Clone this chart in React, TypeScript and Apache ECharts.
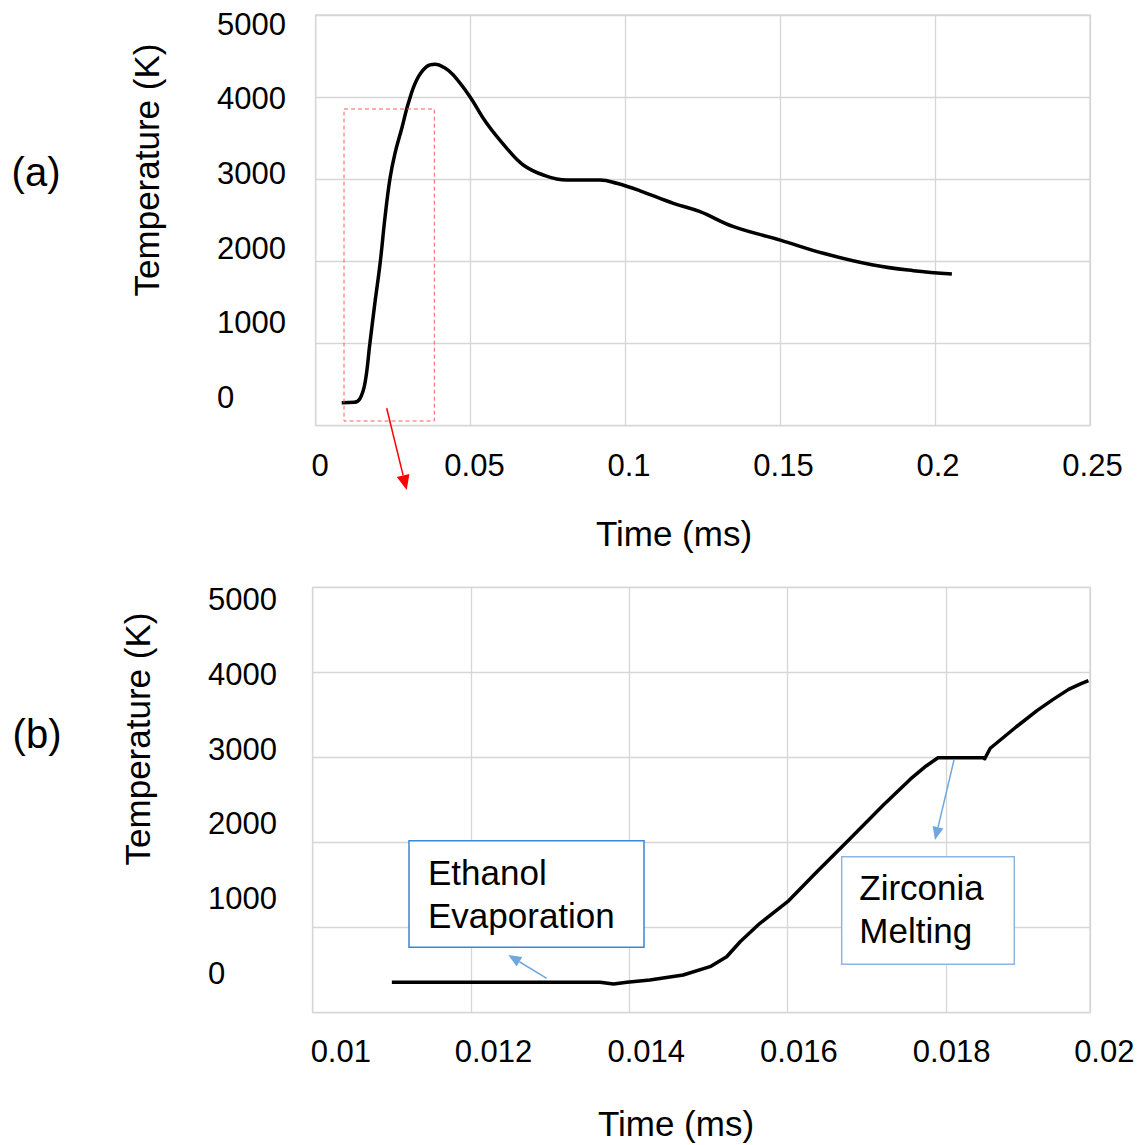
import React, { useEffect, useRef } from "react";
import * as echarts from "echarts";

// ---------- data ----------
// (a) full time history
const timeA = [0.0084, 0.0125, 0.0143, 0.0159, 0.0175, 0.0191, 0.0208, 0.0224, 0.024, 0.0256, 0.0278, 0.0299, 0.0326, 0.0358, 0.0385, 0.0415, 0.0444, 0.0498, 0.0552, 0.0617, 0.067, 0.0735, 0.081, 0.0918, 0.0972, 0.1047, 0.1155, 0.1241, 0.1349, 0.15, 0.1639, 0.18, 0.193, 0.2054];
const tempA = [280, 285, 330, 516, 1003, 1490, 1977, 2545, 3012, 3316, 3621, 3925, 4209, 4371, 4400, 4360, 4270, 4005, 3681, 3377, 3174, 3052, 2991, 2991, 2951, 2860, 2707, 2605, 2423, 2260, 2099, 1956, 1887, 1847];

// (b) zoomed early heating
const timeB = [0.011, 0.01363, 0.0138, 0.01397, 0.01426, 0.01468, 0.01502, 0.01523, 0.0154, 0.01565, 0.016, 0.01637, 0.01675, 0.01721, 0.01755, 0.01775, 0.0179, 0.01847, 0.01849, 0.01856, 0.01889, 0.01915, 0.01935, 0.01955, 0.0197, 0.0198];
const tempB = [357, 357, 337, 357, 384, 443, 541, 658, 834, 1051, 1305, 1657, 2010, 2441, 2745, 2900, 2997, 2997, 2985, 3108, 3361, 3550, 3680, 3800, 3865, 3902];

// tick labels
const yTicks = [0, 1000, 2000, 3000, 4000, 5000];
const xTicksA = [0, 0.05, 0.1, 0.15, 0.2, 0.25];
const xTicksB = [0.01, 0.012, 0.014, 0.016, 0.018, 0.02];

const FONT = '"Liberation Sans", Arial, Helvetica, sans-serif';
const GRID_COLOR = "#d6d6d6";

const fmt = (v: number) => String(parseFloat(Number(v).toFixed(6)));

const hiddenAxis = (gridIndex: number) => ({ gridIndex, type: "value", show: false });

const mainX = (gridIndex: number, min: number, max: number, interval: number) => ({
  gridIndex,
  type: "value",
  min,
  max,
  interval,
  axisLine: { show: false },
  axisTick: { show: false },
  axisLabel: { show: false },
  splitLine: { show: true, lineStyle: { color: GRID_COLOR, width: 1.3 } },
});

const mainY = (gridIndex: number) => ({
  gridIndex,
  type: "value",
  min: yTicks[0],
  max: yTicks[yTicks.length - 1],
  interval: 1000,
  axisLine: { show: false },
  axisTick: { show: false },
  axisLabel: { show: false },
  splitLine: { show: true, lineStyle: { color: GRID_COLOR, width: 1.3 } },
});

const labelX = (gridIndex: number, ticks: number[]) => ({
  gridIndex,
  type: "value",
  min: ticks[0],
  max: ticks[ticks.length - 1],
  interval: ticks[1] - ticks[0],
  axisLine: { show: false },
  axisTick: { show: false },
  splitLine: { show: false },
  axisLabel: {
    show: true,
    margin: 25,
    verticalAlign: "middle",
    color: "#000",
    fontSize: 31,
    fontFamily: FONT,
    formatter: fmt,
  },
});

const labelY = (gridIndex: number, margin: number) => ({
  gridIndex,
  type: "value",
  min: yTicks[0],
  max: yTicks[yTicks.length - 1],
  interval: 1000,
  axisLine: { show: false },
  axisTick: { show: false },
  splitLine: { show: false },
  axisLabel: {
    show: true,
    margin,
    align: "left",
    verticalAlign: "middle",
    color: "#000",
    fontSize: 31,
    fontFamily: FONT,
    formatter: fmt,
  },
});

function arrowHead(x1: number, y1: number, tx: number, ty: number, len: number, half: number) {
  const dx = tx - x1;
  const dy = ty - y1;
  const L = Math.sqrt(dx * dx + dy * dy);
  const ux = dx / L;
  const uy = dy / L;
  const bx = tx - ux * len;
  const by = ty - uy * len;
  const px = -uy * half;
  const py = ux * half;
  return {
    base: [bx, by],
    points: [
      [tx, ty],
      [bx + px, by + py],
      [bx - px, by - py],
    ],
  };
}

function arrow(x1: number, y1: number, tx: number, ty: number, color: string, width: number, len: number, half: number) {
  const h = arrowHead(x1, y1, tx, ty, len, half);
  return [
    { type: "line", z: 100, shape: { x1, y1, x2: h.base[0], y2: h.base[1] }, style: { stroke: color, lineWidth: width } },
    { type: "polygon", z: 100, shape: { points: h.points }, style: { fill: color } },
  ];
}

const txt = (text: string, x: number, y: number, size: number, extra: any = {}) => ({
  type: "text",
  z: 100,
  x,
  y,
  ...extra,
  style: {
    text,
    fontSize: size,
    fontFamily: FONT,
    fill: "#000",
    align: extra.align || "center",
    verticalAlign: "middle",
  },
});

export default function App() {
  const ref = useRef<HTMLDivElement>(null);

  useEffect(() => {
    if (!ref.current) return;
    const chart = echarts.init(ref.current, undefined, { renderer: "svg" });

    const option: any = {
      animation: false,
      backgroundColor: "#ffffff",
      textStyle: { fontFamily: FONT },
      grid: [
        // 0: (a) plot
        { left: 315.7, top: 15, width: 774.3, height: 410.7, show: true, borderColor: GRID_COLOR, borderWidth: 1.3, backgroundColor: "transparent", outerBoundsMode: "none" },
        // 1: (a) y labels
        { left: 300, top: 24.2, width: 100, height: 373, outerBoundsMode: "none" },
        // 2: (a) x labels
        { left: 320, top: 300, width: 772.5, height: 140, outerBoundsMode: "none" },
        // 3: (b) plot
        { left: 312.7, top: 587.3, width: 777.3, height: 425.4, show: true, borderColor: GRID_COLOR, borderWidth: 1.3, backgroundColor: "transparent", outerBoundsMode: "none" },
        // 4: (b) y labels
        { left: 300, top: 599.5, width: 100, height: 374, outerBoundsMode: "none" },
        // 5: (b) x labels
        { left: 340.8, top: 900, width: 763.5, height: 126, outerBoundsMode: "none" },
      ],
      xAxis: [
        mainX(0, xTicksA[0], xTicksA[xTicksA.length - 1], 0.05),
        hiddenAxis(1),
        labelX(2, xTicksA),
        mainX(3, xTicksB[0], 0.01982, 0.002),
        hiddenAxis(4),
        labelX(5, xTicksB),
      ],
      yAxis: [
        mainY(0),
        labelY(1, 83),
        hiddenAxis(2),
        mainY(3),
        labelY(4, 92),
        hiddenAxis(5),
      ],
      series: [
        {
          type: "line",
          xAxisIndex: 0,
          yAxisIndex: 0,
          data: timeA.map((t, i) => [t, tempA[i]]),
          smooth: 0.4,
          showSymbol: false,
          symbol: "none",
          lineStyle: { color: "#000", width: 3.5 },
          silent: true,
        },
        {
          type: "line",
          xAxisIndex: 3,
          yAxisIndex: 3,
          data: timeB.map((t, i) => [t, tempB[i]]),
          smooth: false,
          showSymbol: false,
          symbol: "none",
          lineStyle: { color: "#000", width: 3.5, join: "round" },
          silent: true,
        },
      ],
      graphic: [
        // panel tags
        txt("(a)", 36, 172, 40),
        txt("(b)", 37, 734, 40),
        // axis titles
        txt("Temperature (K)", 146, 170, 35, { rotation: Math.PI / 2 }),
        txt("Temperature (K)", 137, 739, 35, { rotation: Math.PI / 2 }),
        txt("Time (ms)", 674, 533, 35),
        txt("Time (ms)", 676, 1123, 35),
        // red zoom box + arrow
        {
          type: "rect",
          z: 100,
          shape: { x: 344, y: 109, width: 90.3, height: 312 },
          style: { fill: "none", stroke: "#ff5a5a", lineWidth: 1, lineDash: [4, 3] },
        },
        ...arrow(386.7, 408.3, 406.7, 490, "#ff0000", 1.5, 15, 6.5),
        // Ethanol Evaporation
        {
          type: "rect",
          z: 100,
          shape: { x: 409, y: 840.7, width: 235, height: 106.6 },
          style: { fill: "#ffffff", stroke: "#3a87d4", lineWidth: 1.5 },
        },
        txt("Ethanol", 428, 872.5, 35, { align: "left" }),
        txt("Evaporation", 428, 915.8, 35, { align: "left" }),
        ...arrow(546.7, 978.3, 508.3, 955, "#6fa8dc", 1.5, 13, 5.5),
        // Zirconia Melting
        {
          type: "rect",
          z: 100,
          shape: { x: 841.7, y: 856.7, width: 172.6, height: 107.6 },
          style: { fill: "#ffffff", stroke: "#8db5e3", lineWidth: 1.5 },
        },
        txt("Zirconia", 859.3, 887.5, 35, { align: "left" }),
        txt("Melting", 859.3, 930, 35, { align: "left" }),
        ...arrow(954, 760, 935, 840, "#6fa8dc", 1.5, 13, 5.5),
      ],
    };

    chart.setOption(option);
    return () => {
      chart.dispose();
    };
  }, []);

  return (
    <div
      ref={ref}
      style={{ position: "absolute", left: 0, top: 0, width: 1144, height: 1145, background: "#fff" }}
    />
  );
}
